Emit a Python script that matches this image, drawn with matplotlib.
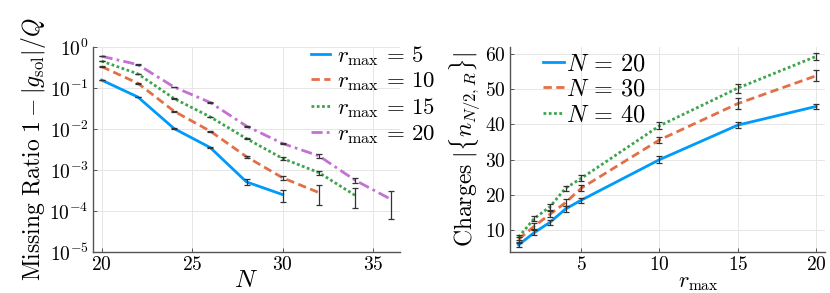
import math
import matplotlib
matplotlib.use("Agg")
import matplotlib.pyplot as plt
from matplotlib.ticker import FixedLocator, FuncFormatter, NullLocator

plt.rcParams["mathtext.fontset"] = "cm"
plt.rcParams["font.family"] = "serif"
plt.rcParams["font.serif"] = ["DejaVu Serif"]

# left panel: missing ratio vs N
N_vals = [20, 22, 24, 26, 28, 30, 32, 34, 36]
rmax_labels = [5, 10, 15, 20]
miss = {
    5:  [0.155, 0.060, 0.0102, 0.0035, 5.1e-4, 2.5e-4],
    10: [0.33, 0.13, 0.027, 0.0088, 0.0021, 6.4e-4, 2.8e-4],
    15: [0.45, 0.22, 0.055, 0.0196, 0.0058, 0.0019, 8.6e-4, 2.4e-4],
    20: [0.59, 0.37, 0.105, 0.044, 0.0117, 0.0044, 0.0022, 5.6e-4, 1.9e-4],
}
miss_err = {
    5:  [0.002, 0.001, 2e-4, 1e-4, 8e-5, 8e-5],
    10: [0.003, 0.002, 5e-4, 2e-4, 1e-4, 8e-5, 1.4e-4],
    15: [0.004, 0.003, 8e-4, 4e-4, 2e-4, 1.5e-4, 1e-4, 1.2e-4],
    20: [0.005, 0.004, 1.5e-3, 8e-4, 3e-4, 2e-4, 2e-4, 9e-5, 1.25e-4],
}

# right panel: charges vs r_max
r_vals = [1, 2, 3, 4, 5, 10, 15, 20]
N_labels = [20, 30, 40]
charges = {
    20: [5.8, 9.3, 12.2, 16.0, 18.5, 30.0, 39.8, 45.1],
    30: [7.4, 11.1, 14.5, 17.8, 21.9, 35.6, 45.9, 53.8],
    40: [8.0, 13.3, 16.6, 21.9, 24.7, 39.6, 50.3, 59.3],
}
charges_err = {
    20: [0.6, 0.7, 0.7, 0.8, 0.7, 1.0, 0.8, 0.6],
    30: [0.7, 0.8, 0.9, 0.9, 0.9, 0.9, 1.6, 1.5],
    40: [0.7, 0.8, 0.9, 0.7, 0.9, 1.0, 1.3, 1.0],
}

colors = ["#009AFA", "#E36F47", "#3EA44E", "#C371D2"]
styles = ["-", (0, (3, 1.6)), (0, (1, 0.9)), (0, (4, 1.5, 1, 1.5))]
err_color = "#333333"

fig = plt.figure(figsize=(8.3, 2.93), dpi=100)
ax1 = fig.add_axes([0.112, 0.140, 0.370, 0.700])
ax2 = fig.add_axes([0.614, 0.140, 0.380, 0.700])

for i, r in enumerate(rmax_labels):
    y = miss[r]
    x = N_vals[:len(y)]
    ax1.plot(x, y, color=colors[i], linestyle=styles[i], lw=2,
             label=rf"$r_\mathrm{{max}}\,=\,{r}$", zorder=2)
    ax1.errorbar(x, y, yerr=miss_err[r], fmt="none", ecolor=err_color,
                 elinewidth=0.9, capsize=2.2, capthick=0.9, zorder=3)

ax1.set_yscale("log")
ax1.set_ylim(1e-5, 1e0)
ax1.set_xlim(19.52, 36.48)
ax1.yaxis.set_major_locator(FixedLocator([1e-5, 1e-4, 1e-3, 1e-2, 1e-1, 1e0]))
ax1.yaxis.set_minor_locator(NullLocator())
ax1.yaxis.set_major_formatter(FuncFormatter(lambda v, p: r"$10^{%d}$" % round(math.log10(v))))
ax1.xaxis.set_major_locator(FixedLocator([20, 25, 30, 35]))
ax1.xaxis.set_major_formatter(FuncFormatter(lambda v, p: rf"${v:g}$"))
ax1.set_xlabel(r"$N$", fontsize=18, labelpad=-4)
ax1.set_ylabel(r"$\mathrm{Missing\ Ratio}\ 1-|g_\mathrm{sol}|/Q$", fontsize=17, labelpad=1)
ax1.legend(loc="upper left", bbox_to_anchor=(0.68, 1.06), frameon=False,
           fontsize=16.5, handlelength=0.85, handletextpad=0.3, labelspacing=0.12,
           borderaxespad=0)

for i, n in enumerate(N_labels):
    ax2.plot(r_vals, charges[n], color=colors[i], linestyle=styles[i], lw=2,
             label=rf"$N\,=\,{n}$", zorder=2)
    ax2.errorbar(r_vals, charges[n], yerr=charges_err[n], fmt="none", ecolor=err_color,
                 elinewidth=0.9, capsize=2.2, capthick=0.9, zorder=3)

ax2.set_xlim(0.43, 20.57)
ax2.set_ylim(3.8, 62)
ax2.xaxis.set_major_locator(FixedLocator([5, 10, 15, 20]))
ax2.yaxis.set_major_locator(FixedLocator([10, 20, 30, 40, 50, 60]))
ax2.xaxis.set_major_formatter(FuncFormatter(lambda v, p: rf"${v:g}$"))
ax2.yaxis.set_major_formatter(FuncFormatter(lambda v, p: rf"${v:g}$"))
ax2.set_xlabel(r"$r_\mathrm{max}$", fontsize=16)
ax2.xaxis.set_label_coords(0.6, -0.095)
ax2.set_ylabel(r"$\mathrm{Charges}\ |\{n_{N/2,R}\}|$", fontsize=17, labelpad=1)
ax2.legend(loc="upper left", bbox_to_anchor=(0.075, 1.02), frameon=False,
           fontsize=17.5, handlelength=0.85, handletextpad=0.08, labelspacing=0.1,
           borderaxespad=0)

for ax in (ax1, ax2):
    ax.grid(True, color="#e6e6e6", lw=0.7, zorder=0)
    ax.set_axisbelow(True)
    for s in ("top", "right"):
        ax.spines[s].set_visible(False)
    for s in ("left", "bottom"):
        ax.spines[s].set_color("#555555")
        ax.spines[s].set_linewidth(1.0)
    ax.tick_params(direction="in", length=3, width=0.7, color="#555555",
                   labelsize=14, pad=3)

fig.savefig("out.png", dpi=100)
